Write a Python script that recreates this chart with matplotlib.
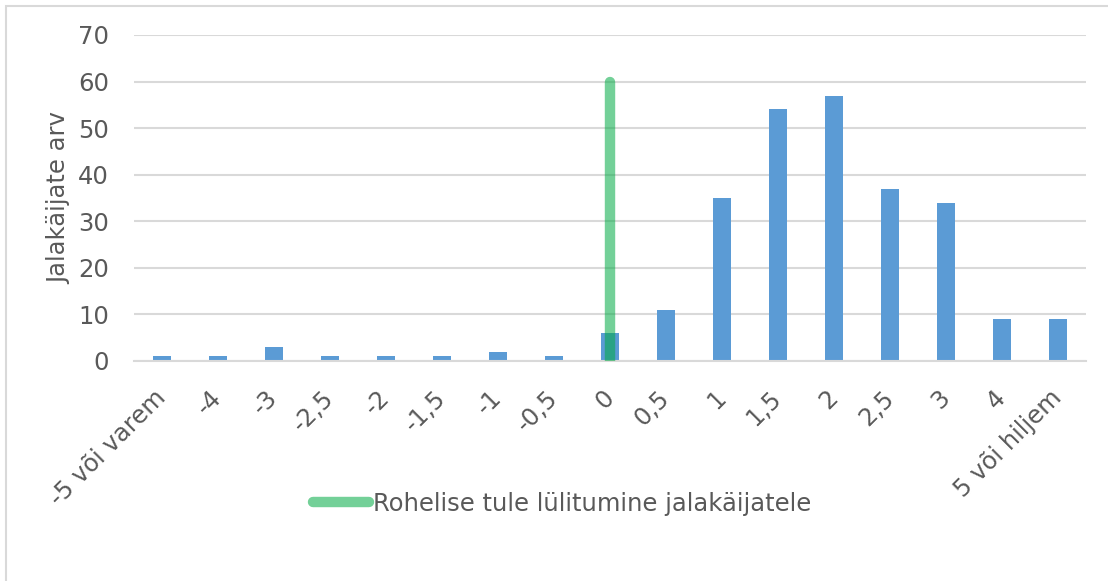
import matplotlib
matplotlib.use("Agg")
import matplotlib.pyplot as plt
from matplotlib.patches import Rectangle
from matplotlib.lines import Line2D

categories = ["-5 või varem", "-4", "-3", "-2,5", "-2", "-1,5", "-1", "-0,5", "0",
              "0,5", "1", "1,5", "2", "2,5", "3", "4", "5 või hiljem"]
counts = [1, 1, 3, 1, 1, 1, 2, 1, 6, 11, 35, 54, 57, 37, 34, 9, 9]

green_label = "Rohelise tule lülitumine jalakäijatele"
green_category = "0"
green_range = [0, 60]

y_ticks = [0, 10, 20, 30, 40, 50, 60, 70]
y_label = "Jalakäijate arv"

text_color = "#595959"
bar_color = "#5b9bd5"
grid_color = "#d9d9d9"
green_color = "#00aa43"

plt.rcParams["font.family"] = ["DejaVu Sans"]

fig = plt.figure(figsize=(11.08, 5.81), dpi=100)
ax = fig.add_axes([0.1209, 0.3787, 0.8592, 0.5611])

x = list(range(len(categories)))
ax.bar(x, counts, width=0.32, color=bar_color, zorder=2)

gx = categories.index(green_category)
ax.plot([gx, gx], green_range, color=green_color, alpha=0.55, linewidth=7.5,
        solid_capstyle="round", zorder=3)

ax.set_xlim(-0.5, len(categories) - 0.5)
ax.set_ylim(0, 70)
ax.set_yticks(y_ticks)
ax.set_yticklabels([str(v) for v in y_ticks], fontsize=17.5, color=text_color)
ax.set_xticks(x)
ax.set_xticklabels(categories, rotation=45, ha="right", va="center",
                   rotation_mode="anchor", fontsize=17.5, color=text_color)
ax.tick_params(axis="both", length=0)
ax.tick_params(axis="x", pad=24)
ax.tick_params(axis="y", pad=18)

ax.yaxis.grid(True, color=grid_color, linewidth=1.5, zorder=0)
ax.set_axisbelow(True)
for side in ["top", "right", "left"]:
    ax.spines[side].set_visible(False)
ax.spines["bottom"].set_color(grid_color)
ax.spines["bottom"].set_linewidth(1.5)

ax.set_ylabel(y_label, fontsize=17.5, color=text_color)
ax.yaxis.set_label_coords(-0.066, 0.5)

handle = Line2D([0], [0], color=green_color, alpha=0.55, linewidth=7.5,
                solid_capstyle="round")
fig.legend([handle], [green_label], loc="center", bbox_to_anchor=(562 / 1108, 1 - 504 / 581),
           frameon=False, fontsize=17.5, labelcolor=text_color, handlelength=2.3,
           handletextpad=0.15)

# light frame around the chart area
fig.patches.append(Rectangle((6 / 1108, -0.05), 1.2, 1 - 6 / 581 + 0.05,
                             transform=fig.transFigure, fill=False,
                             edgecolor=grid_color, linewidth=1.5))

fig.savefig("out.png", dpi=100)
